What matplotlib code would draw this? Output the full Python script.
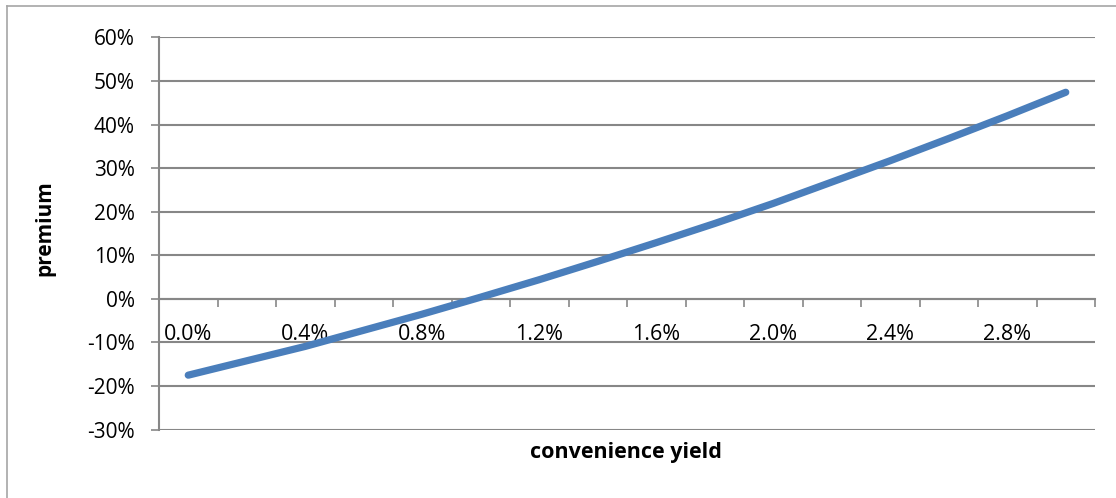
import matplotlib
matplotlib.use('Agg')
from matplotlib import pyplot as plt
from matplotlib.lines import Line2D
import numpy as np

# convenience yield categories (0.0% .. 3.0% in 0.2% steps)
yield_labels = ['0.0%', '0.2%', '0.4%', '0.6%', '0.8%', '1.0%', '1.2%', '1.4%',
                '1.6%', '1.8%', '2.0%', '2.2%', '2.4%', '2.6%', '2.8%', '3.0%']
premium = [-0.175, -0.142, -0.109, -0.072, -0.035, 0.004, 0.044, 0.086,
           0.129, 0.173, 0.219, 0.268, 0.317, 0.368, 0.420, 0.474]
y_ticks = [-0.3, -0.2, -0.1, 0.0, 0.1, 0.2, 0.3, 0.4, 0.5, 0.6]
y_ticklabels = ['-30%', '-20%', '-10%', '0%', '10%', '20%', '30%', '40%', '50%', '60%']

plt.rcParams['font.family'] = ['Open Sans', 'DejaVu Sans']
grey = '#878787'

W, H = 1116, 498
fig = plt.figure(figsize=(W / 100, H / 100), dpi=100)
ax = fig.add_axes([159 / W, (H - 430) / H, 936 / W, 393 / H])

x = np.arange(len(premium)) + 0.5
ax.plot(x, premium, color='#4A7EBB', lw=5.2, solid_capstyle='round', solid_joinstyle='round', zorder=3)

ax.set_xlim(0, len(premium))
ax.set_ylim(-0.3008, 0.6008)

ax.set_yticks(y_ticks)
ax.set_yticklabels(y_ticklabels)
ax.yaxis.grid(True, color=grey, lw=1.5)
ax.tick_params(axis='y', direction='out', length=6, width=1.2, color=grey, pad=11.5, labelsize=15)

# category boundaries as major ticks, every other category labelled
ax.set_xticks(np.arange(0, len(premium) + 1))
ax.set_xticklabels([])
ax.set_xticks(x[::2], minor=True)
ax.set_xticklabels(yield_labels[::2], minor=True)
ax.tick_params(axis='x', which='major', direction='out', length=6, width=1.2, color=grey)
ax.tick_params(axis='x', which='minor', length=0, pad=18, labelsize=15.5)

for s in ['top', 'right']:
    ax.spines[s].set_visible(False)
ax.spines['left'].set_color(grey)
ax.spines['left'].set_linewidth(1.5)
ax.spines['bottom'].set_position(('data', 0))
ax.spines['bottom'].set_color(grey)
ax.spines['bottom'].set_linewidth(1.5)

ax.set_ylabel('premium', fontsize=15, fontweight='bold')
ax.yaxis.set_label_coords(-(159 - 55) / 936, 0.5 - (228 - 233.5) / 393)
fig.text(626 / W, 1 - 452 / H, 'convenience yield', fontsize=15.5, fontweight='bold',
         ha='center', va='center')

# chart frame
fig.add_artist(Line2D([7 / W, 7 / W], [0, 1 - 6 / H], color='#A6A6A6', lw=1.2))
fig.add_artist(Line2D([7 / W, 1], [1 - 6 / H, 1 - 6 / H], color='#A6A6A6', lw=1.2))

fig.savefig('out.png', dpi=100)
